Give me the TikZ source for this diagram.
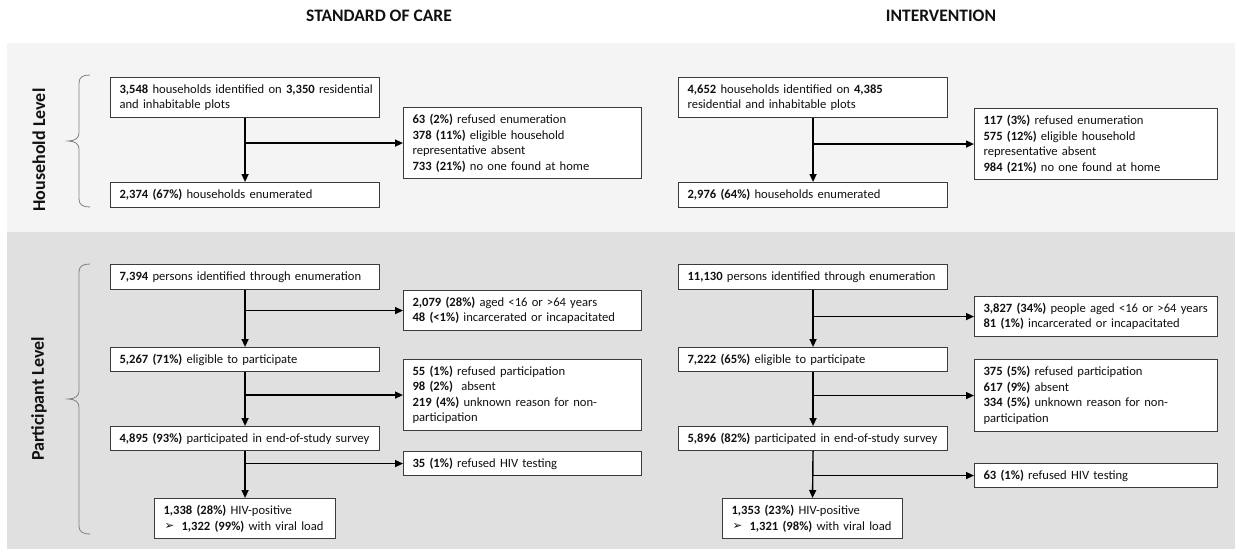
\documentclass[tikz,border=0pt]{standalone}
\usepackage{fontspec}
\setmainfont{Carlito}
\newfontfamily\symfont{DejaVu Sans}
\usetikzlibrary{arrows.meta}
\definecolor{bandlight}{HTML}{F4F4F4}
\definecolor{banddark}{HTML}{E0E0E0}
\definecolor{boxc}{HTML}{3C3C3C}
\definecolor{bracec}{HTML}{808080}
\definecolor{txtc}{HTML}{111111}
\newcommand\boxfont{\fontsize{12.6}{15.5}\selectfont}
\newcommand\oneline[1]{\mbox{#1}}
\newcommand\arrowbullet{\makebox[18pt][l]{\hspace{1pt}\raisebox{0.5pt}{\symfont\fontsize{11.5}{12}\selectfont ➢}}}
\begin{document}
\begin{tikzpicture}[x=1pt,y=-1pt,
  flowbox/.style={draw=boxc, fill=white, line width=1.1pt, inner xsep=9pt, inner ysep=0pt,
    align=left, anchor=north west, font=\boxfont, text=txtc},
  arr/.style={line width=1.4pt, draw=black, -{Triangle[length=8pt,width=7pt]}},
  bracestyle/.style={draw=bracec, line width=0.8pt},
  coltitle/.style={font=\bfseries\fontsize{17.5}{20}\selectfont, text=txtc},
  levellabel/.style={font=\bfseries\fontsize{18}{20}\selectfont, text=txtc, rotate=90}
]
\useasboundingbox (0,0) rectangle (1235,549);
% bands
\fill[white] (0,0) rectangle (1235,549);
\fill[bandlight] (7,43) rectangle (1235,232);
\fill[banddark] (7,232) rectangle (1235,549);

% titles
\node[coltitle] (t1) at (379,16) {STANDARD OF CARE};
\node[coltitle] (t2) at (941,16) {INTERVENTION};

% level labels
\node[levellabel] (lh) at (39,150) {Household Level};
\node[levellabel] (lp) at (39,399) {Participant Level};

% braces
\draw[bracestyle] (90,75) .. controls (83,75) and (79,77) .. (79,83) -- (79,133)
  .. controls (79,138) and (75,141) .. (68,141) .. controls (75,141) and (79,144) .. (79,149)
  -- (79,199) .. controls (79,205) and (83,207) .. (90,207);
\draw[bracestyle] (90,264) .. controls (83,264) and (79,266) .. (79,272) -- (79,391)
  .. controls (79,396) and (75,399) .. (68,399) .. controls (75,399) and (79,402) .. (79,407)
  -- (79,526) .. controls (79,532) and (83,534) .. (90,534);

% ---------- Standard of care: household ----------
\node[flowbox, text width=251pt, minimum height=40pt] (a1) at (110,77)
  {\oneline{\textbf{3,548} households identified on \textbf{3,350} residential}\\
   \oneline{and inhabitable plots}};
\node[flowbox, text width=220pt, minimum height=71pt] (ax) at (403,107)
  {\oneline{\textbf{63 (2\%)} refused enumeration}\\
   \oneline{\textbf{378 (11\%)} eligible household}\\
   \oneline{representative absent}\\
   \oneline{\textbf{733 (21\%)} no one found at home}};
\node[flowbox, text width=251pt, minimum height=25pt] (a2) at (110,182)
  {\oneline{\textbf{2,374 (67\%)} households enumerated}};

% ---------- Intervention: household ----------
\node[flowbox, text width=251pt, minimum height=40pt] (b1) at (678,77)
  {\oneline{\textbf{4,652} households identified on \textbf{4,385}}\\
   \oneline{residential and inhabitable plots}};
\node[flowbox, text width=225pt, minimum height=71pt] (bx) at (974,108)
  {\oneline{\textbf{117 (3\%)} refused enumeration}\\
   \oneline{\textbf{575 (12\%)} eligible household}\\
   \oneline{representative absent}\\
   \oneline{\textbf{984 (21\%)} no one found at home}};
\node[flowbox, text width=251pt, minimum height=25pt] (b2) at (678,182)
  {\oneline{\textbf{2,976 (64\%)} households enumerated}};

% ---------- Standard of care: participant ----------
\node[flowbox, text width=251pt, minimum height=25pt] (c1) at (110,264)
  {\oneline{\textbf{7,394} persons identified through enumeration}};
\node[flowbox, text width=220pt, minimum height=40pt] (cx1) at (403,290)
  {\oneline{\textbf{2,079 (28\%)} aged <16 or >64 years}\\
   \oneline{\textbf{48 (<1\%)} incarcerated or incapacitated}};
\node[flowbox, text width=251pt, minimum height=24pt] (c2) at (110,347)
  {\oneline{\textbf{5,267 (71\%)} eligible to participate}};
\node[flowbox, text width=220pt, minimum height=71pt] (cx2) at (403,359)
  {\oneline{\textbf{55 (1\%)} refused participation}\\
   \oneline{\textbf{98 (2\%)}\ \ absent}\\
   \oneline{\textbf{219 (4\%)} unknown reason for non-}\\
   \oneline{participation}};
\node[flowbox, text width=251pt, minimum height=24pt] (c3) at (110,426)
  {\oneline{\textbf{4,895 (93\%)} participated in end-of-study survey}};
\node[flowbox, text width=220pt, minimum height=24pt] (cx3) at (403,451)
  {\oneline{\textbf{35 (1\%)} refused HIV testing}};
\node[flowbox, text width=163pt, minimum height=40pt] (c4) at (154,498)
  {\oneline{\textbf{1,338 (28\%)} HIV-positive}\\
   \oneline{\arrowbullet\textbf{1,322 (99\%)} with viral load}};

% ---------- Intervention: participant ----------
\node[flowbox, text width=251pt, minimum height=25pt] (d1) at (678,264)
  {\oneline{\textbf{11,130} persons identified through enumeration}};
\node[flowbox, text width=225pt, minimum height=40pt] (dx1) at (974,296)
  {\oneline{\textbf{3,827 (34\%)} people aged <16 or >64 years}\\
   \oneline{\textbf{81 (1\%)} incarcerated or incapacitated}};
\node[flowbox, text width=251pt, minimum height=24pt] (d2) at (678,347)
  {\oneline{\textbf{7,222 (65\%)} eligible to participate}};
\node[flowbox, text width=225pt, minimum height=72pt] (dx2) at (974,359)
  {\oneline{\textbf{375 (5\%)} refused participation}\\
   \oneline{\textbf{617 (9\%)} absent}\\
   \oneline{\textbf{334 (5\%)} unknown reason for non-}\\
   \oneline{participation}};
\node[flowbox, text width=251pt, minimum height=24pt] (d3) at (678,426)
  {\oneline{\textbf{5,896 (82\%)} participated in end-of-study survey}};
\node[flowbox, text width=225pt, minimum height=24pt] (dx3) at (974,463)
  {\oneline{\textbf{63 (1\%)} refused HIV testing}};
\node[flowbox, text width=162pt, minimum height=40pt] (d4) at (722,498)
  {\oneline{\textbf{1,353 (23\%)} HIV-positive}\\
   \oneline{\arrowbullet\textbf{1,321 (98\%)} with viral load}};

% ---------- connectors ----------
\draw[arr] (a1.south) -- (a2.north);
\draw[arr] (a1.south |- ax.west) -- (ax.west);
\draw[arr] (b1.south) -- (b2.north);
\draw[arr] (b1.south |- bx.west) -- (bx.west);

\draw[arr] (c1.south) -- (c2.north);
\draw[arr] (c1.south |- cx1.west) -- (cx1.west);
\draw[arr] (c2.south) -- (c3.north);
\draw[arr] (c2.south |- cx2.west) -- (cx2.west);
\draw[arr] (c3.south) -- (c4.north);
\draw[arr] (c3.south |- cx3.west) -- (cx3.west);

\draw[arr] (d1.south) -- (d2.north);
\draw[arr] (d1.south |- dx1.west) -- (dx1.west);
\draw[arr] (d2.south) -- (d3.north);
\draw[arr] (d2.south |- dx2.west) -- (dx2.west);
\draw[arr] (d3.south) -- (d4.north);
\draw[arr] (d3.south |- dx3.west) -- (dx3.west);
\end{tikzpicture}
\end{document}
